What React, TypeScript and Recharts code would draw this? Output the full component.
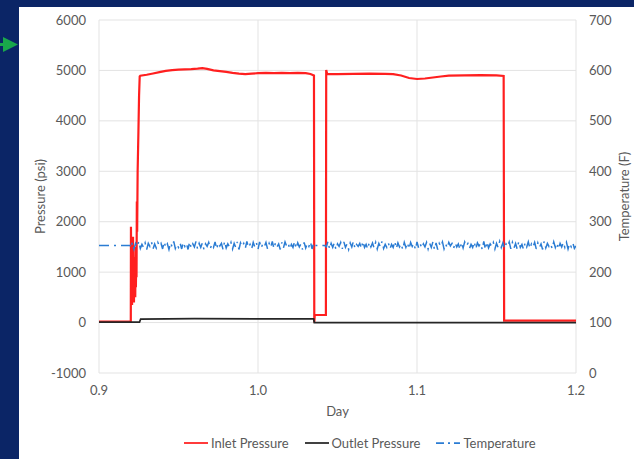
import { CartesianGrid, ComposedChart, Line, XAxis, YAxis } from "recharts";

const dayTicks = [0.9, 1.0, 1.1, 1.2];
const pressureTicks = [-1000, 0, 1000, 2000, 3000, 4000, 5000, 6000];
const temperatureTicks = [0, 100, 200, 300, 400, 500, 600, 700];

// inlet pressure (day, psi)
const inletDays = [
  0.9, 0.92, 0.9201, 0.9204, 0.9206, 0.9208, 0.921, 0.9212, 0.9214, 0.9216,
  0.9218, 0.922, 0.9222, 0.9224, 0.9226, 0.9228, 0.923, 0.9232, 0.9234, 0.9236,
  0.9238, 0.924, 0.9243, 0.9248, 0.9252, 0.9256,
  0.926, 0.93, 0.934, 0.938, 0.942, 0.946, 0.95, 0.954, 0.958, 0.962,
  0.965, 0.968, 0.972, 0.976, 0.98, 0.984, 0.988, 0.992, 0.996, 1.0,
  1.005, 1.01, 1.015, 1.02, 1.025, 1.03, 1.033, 1.0352, 1.0354, 1.0357,
  1.0427, 1.0429, 1.0435, 1.05, 1.06, 1.07, 1.08, 1.085, 1.09, 1.095,
  1.1, 1.105, 1.11, 1.115, 1.12, 1.13, 1.14, 1.15, 1.1545, 1.1548,
  1.2,
];
const inletPsi = [
  20, 20, 1900, 600, 1500, 350, 1250, 500, 1700, 800,
  1100, 400, 1300, 650, 1050, 500, 1500, 700, 1200, 900,
  2400, 1800, 3000, 3800, 4500, 4880,
  4895, 4915, 4940, 4965, 4990, 5005, 5015, 5020, 5025, 5035,
  5045, 5030, 5000, 4985, 4970, 4950, 4935, 4925, 4935, 4945,
  4950, 4945, 4950, 4945, 4950, 4945, 4930, 4900, 0, 150,
  150, 5010, 4930, 4925, 4930, 4935, 4930, 4925, 4900, 4850,
  4830, 4840, 4860, 4880, 4895, 4900, 4905, 4900, 4890, 40,
  40,
];

const outletDays = [0.9, 0.9255, 0.9262, 0.96, 1.0, 1.035, 1.0354, 1.2];
const outletPsi = [10, 10, 70, 80, 75, 75, 0, 0];

// temperature: flat lead-in, then logged every 0.001 day from 0.92
const tempLeadDays = [0.9, 0.9195];
const tempLeadF = [253, 253];
const tempStartDay = 0.92;
const tempStepDay = 0.001;
const tempF = [
  248, 259, 246, 257, 250, 261, 247, 255, 249, 258,
  245, 257, 251, 260, 246, 256, 248, 259, 252, 257,
  246, 260, 249, 256, 245, 258, 250, 261, 247, 255,
  249, 258, 246, 259, 251, 257, 245, 260, 248, 256,
  250, 261, 246, 257, 249, 258, 245, 256, 251, 259,
  247, 255, 249, 260, 246, 258, 252, 257, 245, 261,
  248, 256, 250, 259, 246, 257, 249, 260, 245, 258,
  251, 257, 247, 261, 249, 255, 246, 259, 250, 258,
  245, 260, 248, 256, 251, 259, 246, 257, 249, 261,
  247, 258, 250, 256, 245, 259, 248, 260, 252, 257,
  246, 255, 249, 261, 247, 258, 250, 256, 245, 259,
  248, 257, 251, 260, 246, 258,
  253, 253, 253, 253, 253, 253, 253,
  250, 261, 246, 257, 249, 258, 245, 256, 251, 259,
  246, 260, 249, 256, 245, 258, 250, 261, 247, 255,
  251, 257, 247, 261, 249, 255, 246, 259, 250, 258,
  248, 259, 246, 257, 250, 261, 247, 255, 249, 258,
  246, 255, 249, 261, 247, 258, 250, 256, 245, 259,
  249, 258, 246, 259, 251, 257, 245, 260, 248, 256,
  248, 256, 250, 259, 246, 257, 249, 260, 245, 258,
  245, 257, 251, 260, 246, 256, 248, 259, 252, 257,
  247, 258, 250, 256, 245, 259, 248, 260, 252, 257,
  247, 255, 249, 260, 246, 258, 252, 257, 245, 261,
  245, 260, 248, 256, 251, 259, 246, 257, 249, 261,
  249, 258, 247, 256, 251, 260, 246, 259, 248, 257,
  246, 261, 249, 255, 245, 258, 250, 260, 247, 256,
  250, 259, 246, 258, 249, 256, 245, 261, 248, 257,
  251, 256, 247, 260, 249, 258, 246, 257, 250, 259,
  249, 259, 246, 257, 250, 258, 247, 252,
];

const inletData = inletDays.map((day, i) => ({ day, psi: inletPsi[i] }));
const outletData = outletDays.map((day, i) => ({ day, psi: outletPsi[i] }));
const tempData = [
  ...tempLeadDays.map((day, i) => ({ day, temp: tempLeadF[i] })),
  ...tempF.map((temp, i) => ({ day: +(tempStartDay + i * tempStepDay).toFixed(4), temp })),
];

const TEXT = "#595959";
const FONT = "Lato, 'Noto Sans', sans-serif";

function PressureLabel({ viewBox }: any) {
  const x = viewBox.x + 21;
  const y = viewBox.y + viewBox.height / 2;
  return (
    <text x={x} y={y} transform={`rotate(-90 ${x} ${y})`} textAnchor="middle" dominantBaseline="central" fill={TEXT} fontSize={13}>
      Pressure (psi)
    </text>
  );
}

function TemperatureLabel({ viewBox }: any) {
  const x = viewBox.x + 48;
  const y = viewBox.y + viewBox.height / 2;
  return (
    <text x={x} y={y} transform={`rotate(-90 ${x} ${y})`} textAnchor="middle" dominantBaseline="central" fill={TEXT} fontSize={13}>
      Temperature (F)
    </text>
  );
}

function DayLabel({ viewBox }: any) {
  const x = viewBox.x + viewBox.width / 2;
  const y = viewBox.y + 38;
  return (
    <text x={x} y={y} textAnchor="middle" dominantBaseline="central" fill={TEXT} fontSize={13}>
      Day
    </text>
  );
}

const legendItems = [
  { name: "Inlet Pressure", color: "#ff1f1f", dash: undefined },
  { name: "Outlet Pressure", color: "#262626", dash: undefined },
  { name: "Temperature", color: "#2b7cd3", dash: "8 4 2 4" },
];

export default function App() {
  return (
    <div style={{ position: "absolute", left: 0, top: 0, width: 634, height: 459, background: "#0b2566", overflow: "hidden", fontFamily: FONT }}>
      <svg width={20} height={20} style={{ position: "absolute", left: 0, top: 35 }}>
        <rect x={0} y={8} width={5} height={3} fill="#19a84b" />
        <polygon points="3,2 18,9.5 3,17" fill="#19a84b" />
      </svg>
      <div style={{ position: "absolute", left: 19, top: 7, width: 615, height: 452, background: "#ffffff" }}>
        <ComposedChart width={615} height={452} margin={{ top: 13, right: 0, bottom: 36, left: 0 }}>
          <CartesianGrid yAxisId="p" stroke="#e3e3e3" />
          <XAxis
            dataKey="day"
            type="number"
            domain={[0.9, 1.2]}
            ticks={dayTicks}
            interval={0}
            allowDataOverflow
            tickFormatter={(v: number) => v.toFixed(1)}
            axisLine={false}
            tickLine={false}
            tickMargin={7}
            height={50}
            tick={{ fill: TEXT, fontSize: 13 }}
            label={{ content: DayLabel }}
          />
          <YAxis
            yAxisId="p"
            type="number"
            domain={[-1000, 6000]}
            ticks={pressureTicks}
            interval={0}
            axisLine={false}
            tickLine={false}
            tickMargin={7}
            width={80}
            tick={{ fill: TEXT, fontSize: 13 }}
            label={{ content: PressureLabel }}
          />
          <YAxis
            yAxisId="t"
            orientation="right"
            type="number"
            domain={[0, 700]}
            ticks={temperatureTicks}
            interval={0}
            axisLine={false}
            tickLine={false}
            tickMargin={7}
            width={58}
            tick={{ fill: TEXT, fontSize: 13 }}
            label={{ content: TemperatureLabel }}
          />
          <Line data={inletData} dataKey="psi" yAxisId="p" type="linear" stroke="#ff1f1f" strokeWidth={2.2} dot={false} activeDot={false} isAnimationActive={false} />
          <Line data={outletData} dataKey="psi" yAxisId="p" type="linear" stroke="#262626" strokeWidth={1.75} dot={false} activeDot={false} isAnimationActive={false} />
          <Line data={tempData} dataKey="temp" yAxisId="t" type="linear" stroke="#2b7cd3" strokeWidth={1.5} strokeDasharray="10 5 2 5" dot={false} activeDot={false} isAnimationActive={false} />
        </ComposedChart>
        <div style={{ position: "absolute", left: 165, top: 428, display: "flex", alignItems: "center", fontSize: 13, color: TEXT, whiteSpace: "nowrap" }}>
          {legendItems.map((it) => (
            <div key={it.name} style={{ display: "flex", alignItems: "center", marginRight: 16 }}>
              <svg width={24} height={12}>
                <line x1={0} y1={6} x2={24} y2={6} stroke={it.color} strokeWidth={1.75} strokeDasharray={it.dash} />
              </svg>
              <span style={{ marginLeft: 3 }}>{it.name}</span>
            </div>
          ))}
        </div>
      </div>
    </div>
  );
}
